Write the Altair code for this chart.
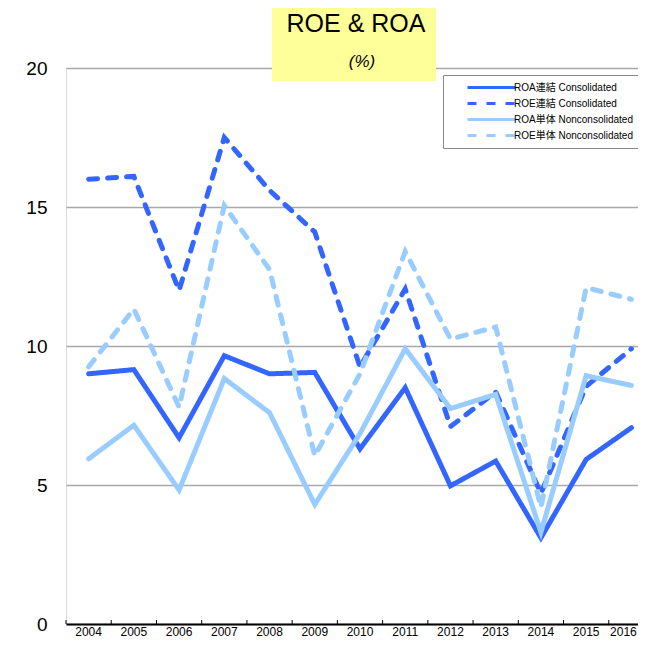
import altair as alt
import pandas as pd

years = [str(y) for y in range(2004, 2017)]
series_names = ["ROA連結 Consolidated", "ROE連結 Consolidated",
                "ROA単体 Nonconsolidated", "ROE単体 Nonconsolidated"]
roa_con = [9.0, 9.15, 6.7, 9.65, 9.0, 9.05, 6.3, 8.5, 4.97, 5.86, 3.1, 5.92, 7.06]
roe_con = [16.0, 16.1, 12.0, 17.5, 15.6, 14.1, 9.25, 12.05, 7.1, 8.35, 4.7, 8.55, 9.9]
roa_non = [5.94, 7.15, 4.82, 8.83, 7.6, 4.3, 6.85, 9.9, 7.75, 8.26, 3.3, 8.93, 8.58]
roe_non = [9.25, 11.33, 7.8, 15.05, 12.75, 6.05, 9.0, 13.4, 10.25, 10.68, 4.2, 12.1, 11.68]
colors = ["#3366FF", "#3366FF", "#99CCFF", "#99CCFF"]
dashes = [[1, 0], [9, 10], [1, 0], [9, 10]]
y_ticks = [0, 5, 10, 15, 20]

rows = []
for i, (name, vals) in enumerate(zip(series_names, [roa_con, roe_con, roa_non, roe_non])):
    for yr, v in zip(years, vals):
        rows.append({"year": yr, "series": name, "value": v, "order": i})
df = pd.DataFrame(rows)
ticks_df = pd.DataFrame({"year": years})

FONT = "Liberation Sans, Arial, Noto Sans CJK JP"
W_RANGE = 588
H = 556

xscale = alt.Scale(type="band", domain=years, range=[0, W_RANGE], paddingInner=0, paddingOuter=0)

legend = alt.Legend(
    title=None, orient="none", legendX=377, legendY=7,
    fillColor="white", strokeColor="#888888", padding=6,
    symbolType="M-4.8,0H4.8", symbolSize=100, symbolStrokeWidth=3,
    symbolOffset=36, labelOffset=16,
    labelFont=FONT, labelFontSize=10, labelColor="black",
    rowPadding=3,
)

lines = alt.Chart(df).mark_line(strokeWidth=5, strokeCap="round", strokeJoin="miter").encode(
    x=alt.X("year:O", scale=xscale,
            axis=alt.Axis(title=None, labelAngle=0, labelFont=FONT, labelFontSize=12,
                          labelColor="black", ticks=False, labelPadding=2,
                          labelOffset={"condition": {"test": "datum.value == '2016'", "value": -8}, "value": 0},
                          domainColor="black", domainWidth=2, grid=False)),
    y=alt.Y("value:Q", scale=alt.Scale(domain=[0, 20], nice=False),
            axis=alt.Axis(title=None, values=y_ticks, labelFont=FONT, labelFontSize=19,
                          labelColor="black", ticks=False, domain=False, labelPadding=19,
                          gridColor="#A8A8A8", gridWidth=1.5)),
    color=alt.Color("series:N", scale=alt.Scale(domain=series_names, range=colors), legend=legend),
    strokeDash=alt.StrokeDash("series:N", scale=alt.Scale(domain=series_names, range=dashes), legend=legend),
    order=alt.Order("order:Q"),
    detail="series:N",
)

ticks = alt.Chart(ticks_df).mark_rule(color="black", strokeWidth=1).encode(
    x=alt.X("year:O", scale=xscale, bandPosition=0),
    y=alt.value(H), y2=alt.value(H - 4),
)

deco = alt.Data(values=[{}])
title_box = alt.Chart(deco).mark_rect(color="#FFFF99").encode(
    x=alt.value(206), x2=alt.value(370), y=alt.value(-60), y2=alt.value(13),
)
title_text = alt.Chart(deco).mark_text(text="ROE & ROA", font=FONT, fontSize=25,
                                       color="black", baseline="alphabetic").encode(
    x=alt.value(290), y=alt.value(-36.5),
)
sub_text = alt.Chart(deco).mark_text(text="(%)", font=FONT, fontSize=17, fontStyle="italic",
                                     color="black", baseline="middle").encode(
    x=alt.value(296), y=alt.value(-6),
)

chart = alt.layer(lines, ticks, title_box, title_text, sub_text).properties(
    width=572, height=H,
    autosize=alt.AutoSizeParams(type="none"),
    padding={"left": 58, "top": 60, "right": 0, "bottom": 14},
).configure_view(stroke=None).configure(background="white")

chart.save("out.html", embed_options={"renderer": "svg", "actions": False})
